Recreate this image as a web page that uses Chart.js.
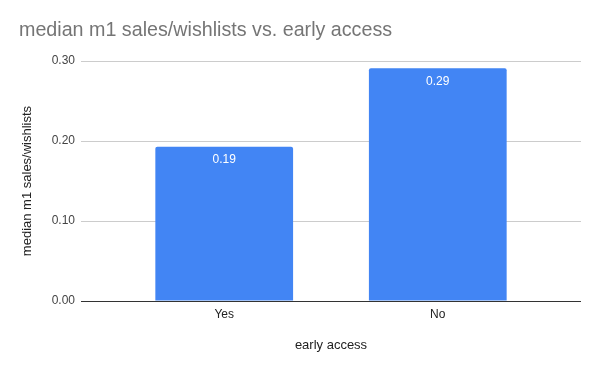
<!DOCTYPE html>
<html>
<head>
<meta charset="utf-8">
<script src="https://cdn.jsdelivr.net/npm/chart.js@4"></script>
<style>
  body { margin: 0; background: #fff; }
  #wrap { width: 600px; height: 371px; position: relative; }
</style>
</head>
<body>
<div id="wrap"><canvas id="myChart"></canvas></div>
<script>
const categories = ['Yes', 'No']
const values = [0.193, 0.291]
const yTicks = [0, 0.1, 0.2, 0.3]

const fontFamily = '"Liberation Sans", Arial, sans-serif'

// white value labels just inside the top of each bar
const barLabels = {
  id: 'barLabels',
  afterDatasetsDraw(chart) {
    const ctx = chart.ctx
    const meta = chart.getDatasetMeta(0)
    ctx.save()
    ctx.fillStyle = '#ffffff'
    ctx.font = '12px ' + fontFamily
    ctx.textAlign = 'center'
    ctx.textBaseline = 'middle'
    meta.data.forEach((bar, i) => {
      ctx.fillText(values[i].toFixed(2), bar.x, bar.y + 13)
    })
    ctx.restore()
  }
}

const ctx = document.getElementById('myChart')
new Chart(ctx, {
  type: 'bar',
  data: {
    datasets: [{
      data: values.map((v, i) => ({ x: i, y: v })),
      backgroundColor: '#4285f4',
      borderRadius: { topLeft: 2, topRight: 2 },
      borderSkipped: 'bottom',
      barPercentage: 0.645,
      categoryPercentage: 1
    }]
  },
  options: {
    responsive: true,
    maintainAspectRatio: false,
    animation: false,
    layout: { padding: { left: 19, right: 19, top: 0, bottom: 0 } },
    plugins: {
      legend: { display: false },
      tooltip: { enabled: false },
      title: {
        display: true,
        text: 'median m1 sales/wishlists vs. early access',
        align: 'start',
        color: '#757575',
        font: { family: fontFamily, size: 19.7, weight: 'normal' },
        padding: { top: 19, bottom: 18.4 }
      }
    },
    scales: {
      x: {
        type: 'linear',
        offset: false,
        min: -0.6706,
        max: 1.6706,
        grid: { display: false, drawTicks: false },
        border: { display: false },
        afterBuildTicks(scale) {
          scale.ticks = categories.map((c, i) => ({ value: i }))
        },
        afterFit(scale) { scale.height = 70 },
        ticks: {
          padding: 6,
          color: '#222',
          font: { family: fontFamily, size: 12 },
          callback: (v) => categories[v]
        },
        title: {
          display: true,
          text: 'early access',
          color: '#222',
          font: { family: fontFamily, size: 13 },
          padding: { top: 0, bottom: 18 }
        }
      },
      y: {
        min: 0,
        max: 0.3,
        afterBuildTicks(scale) {
          scale.ticks = yTicks.map(v => ({ value: v }))
        },
        afterFit(scale) { scale.width = 62 },
        grid: {
          color: (c) => c.tick && c.tick.value === 0 ? '#333333' : '#cccccc',
          drawTicks: false
        },
        border: { display: false },
        ticks: {
          padding: 6,
          color: '#444',
          font: { family: fontFamily, size: 12 },
          callback: (v) => Number(v).toFixed(2)
        },
        title: {
          display: true,
          text: 'median m1 sales/wishlists',
          color: '#222',
          font: { family: fontFamily, size: 13 },
          padding: { top: 1, bottom: 0 }
        }
      }
    }
  },
  plugins: [barLabels]
})
</script>
</body>
</html>
